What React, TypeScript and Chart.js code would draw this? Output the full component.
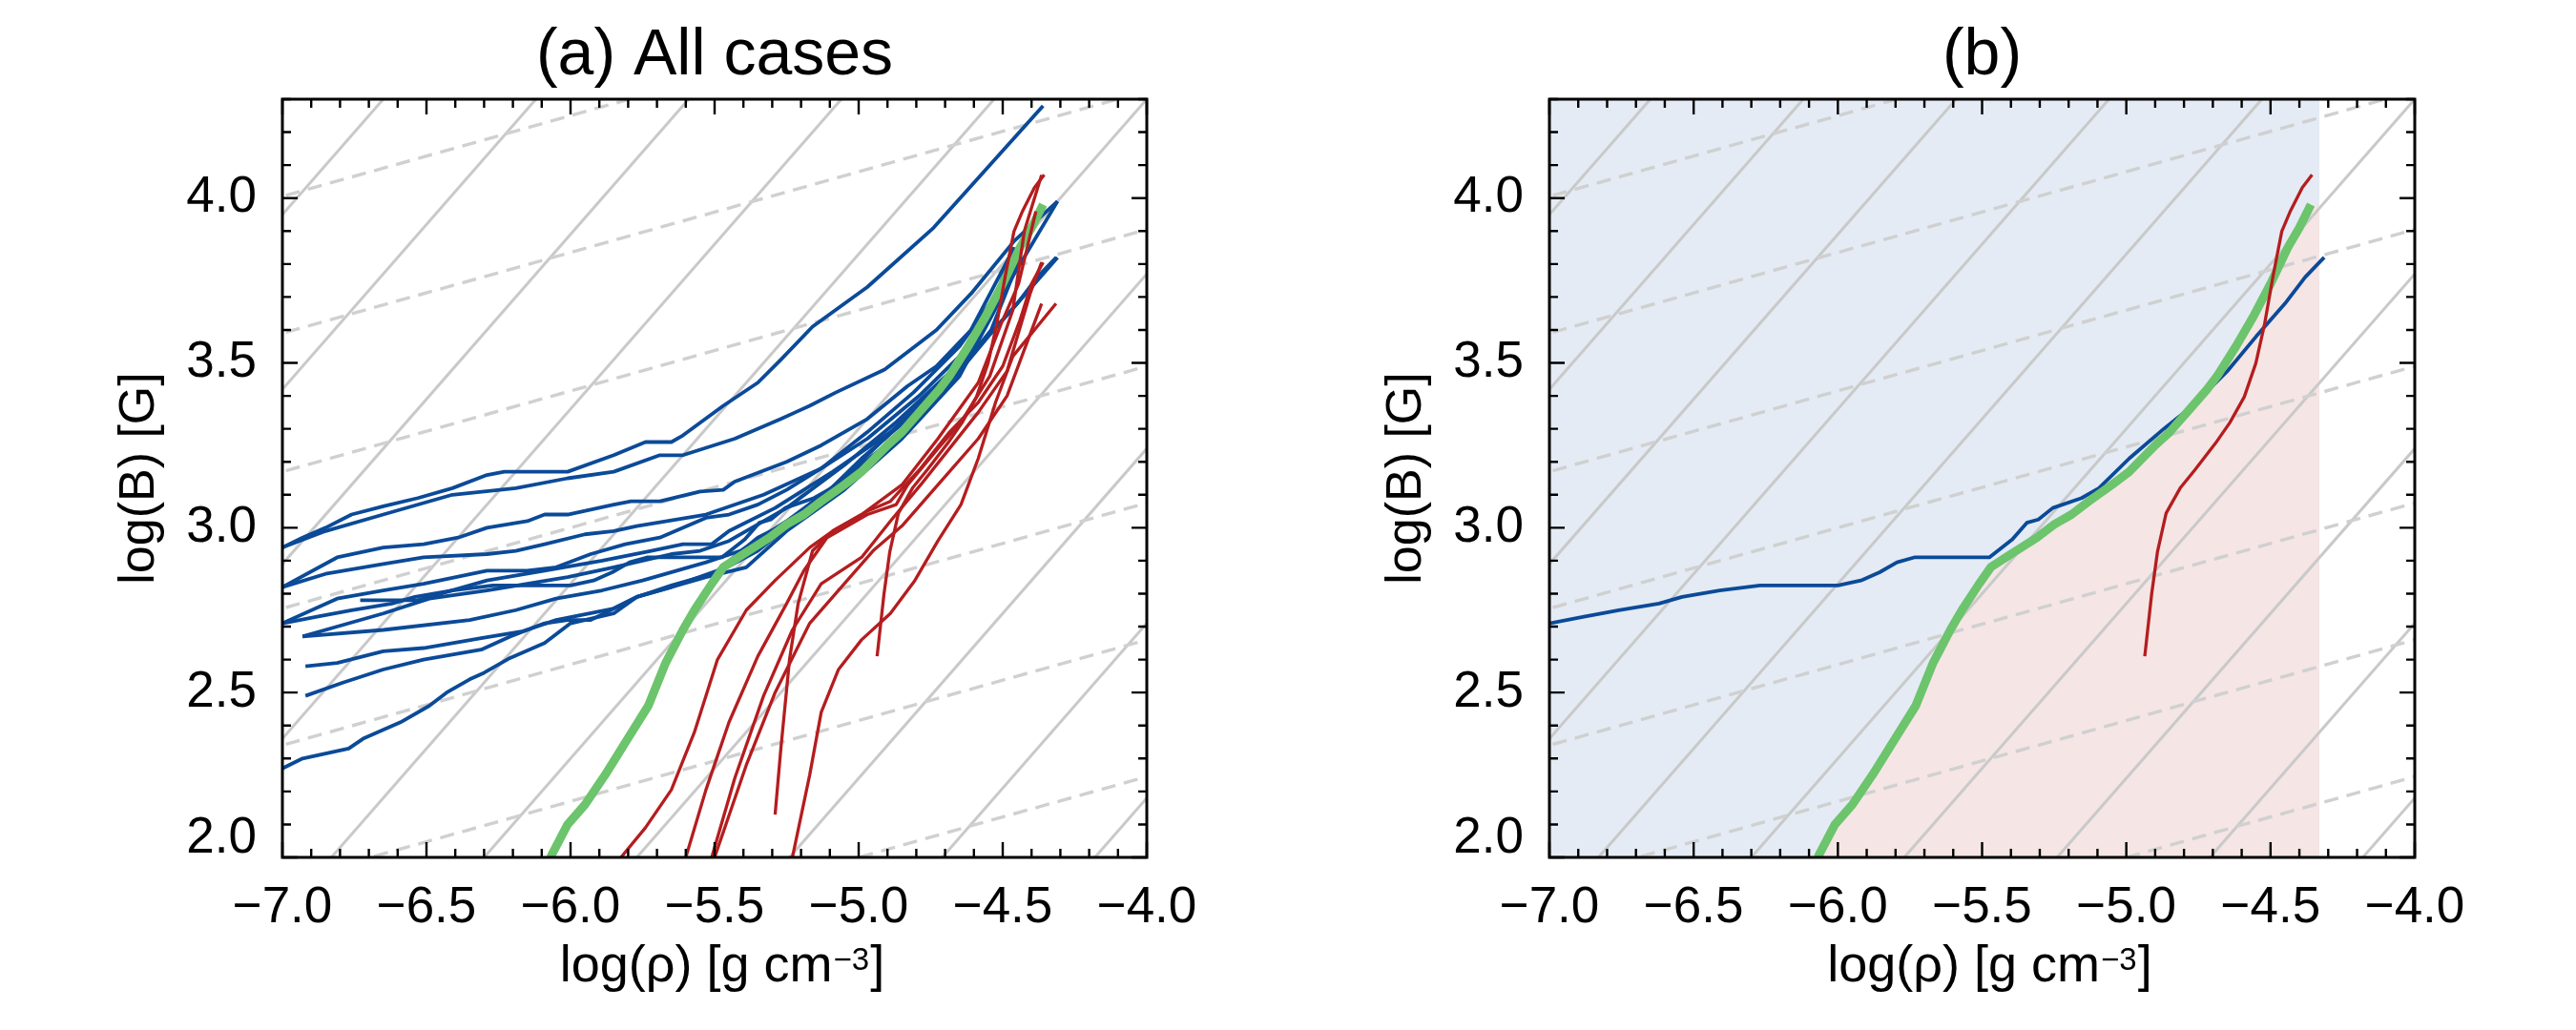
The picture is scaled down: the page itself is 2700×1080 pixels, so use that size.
import React, { useEffect, useRef } from 'react';
import { Chart, registerables } from 'chart.js';

Chart.register(...registerables);

// Axis ranges: log(rho) [g cm^-3] and log(B) [G]
const RHO_MIN = -7.0;
const RHO_MAX = -4.0;
const B_MIN = 2.0;
const B_MAX = 4.3;

// Reference iso-lines. Solid: logB = logRho + c ; dashed: logB = b + slope * (logRho + 7)
const solidOffsets = [10.95, 10.42, 9.89, 9.36, 8.83, 8.3, 7.77, 7.24, 6.71, 6.18];
const SOLID_SLOPE = 1.0;
const dashedAtRhoMinus7 = [4.005, 3.59, 3.17, 2.755, 2.34, 1.925, 1.51];
const DASHED_SLOPE = 0.245;

// Right edge of the shaded regions in panel (b)
const SHADE_EDGE = -4.33;

type Pt = [number, number];

// Green reference track (shown in both panels)
const greenTrack: Pt[] = [
  [-6.07, 2.0], [-6.01, 2.1], [-5.95, 2.16], [-5.88, 2.25], [-5.83, 2.32], [-5.78, 2.39],
  [-5.73, 2.46], [-5.67, 2.59], [-5.61, 2.69], [-5.57, 2.75], [-5.51, 2.83], [-5.47, 2.88],
  [-5.4, 2.92], [-5.31, 2.97], [-5.25, 3.01], [-5.19, 3.04], [-5.13, 3.08], [-5.05, 3.13],
  [-4.99, 3.17], [-4.9, 3.25], [-4.85, 3.29], [-4.78, 3.36], [-4.72, 3.42], [-4.685, 3.46],
  [-4.62, 3.55], [-4.56, 3.64], [-4.5, 3.74], [-4.44, 3.85], [-4.4, 3.91], [-4.36, 3.98],
];

// Blue cases
const blueA: Pt[] = [
  [-7.0, 2.94], [-6.93, 2.97], [-6.85, 3.0], [-6.76, 3.04], [-6.65, 3.065], [-6.53, 3.09],
  [-6.41, 3.12], [-6.29, 3.16], [-6.23, 3.17], [-6.01, 3.17], [-5.85, 3.22], [-5.74, 3.26],
  [-5.65, 3.26], [-5.61, 3.28], [-5.47, 3.37], [-5.35, 3.44], [-5.27, 3.51], [-5.16, 3.61],
  [-4.97, 3.73], [-4.74, 3.91], [-4.36, 4.28],
];
const blueB: Pt[] = [
  [-7.0, 2.94], [-6.85, 2.99], [-6.65, 3.04], [-6.41, 3.1], [-6.19, 3.12], [-6.01, 3.15],
  [-5.85, 3.17], [-5.69, 3.22], [-5.61, 3.22], [-5.43, 3.27], [-5.27, 3.33], [-5.22, 3.35],
  [-5.17, 3.37], [-5.08, 3.41], [-4.91, 3.48], [-4.73, 3.6], [-4.61, 3.71], [-4.46, 3.87],
  [-4.31, 3.99],
];
const blueC: Pt[] = [
  [-7.0, 2.82], [-6.81, 2.91], [-6.65, 2.94], [-6.51, 2.95], [-6.39, 2.97], [-6.29, 3.0],
  [-6.15, 3.02], [-6.09, 3.04], [-6.01, 3.04], [-5.85, 3.07], [-5.79, 3.08], [-5.69, 3.08],
  [-5.55, 3.11], [-5.47, 3.115], [-5.43, 3.14], [-5.25, 3.2], [-5.13, 3.25], [-4.97, 3.33],
  [-4.83, 3.43], [-4.73, 3.49], [-4.61, 3.6], [-4.46, 3.85],
];
const blueD: Pt[] = [
  [-7.0, 2.82], [-6.85, 2.86], [-6.65, 2.89], [-6.51, 2.91], [-6.29, 2.92], [-6.19, 2.93],
  [-6.09, 2.95], [-5.95, 2.98], [-5.85, 2.99], [-5.77, 3.005], [-5.53, 3.04], [-5.33, 3.1],
  [-5.13, 3.18], [-4.97, 3.27], [-4.79, 3.4], [-4.65, 3.52], [-4.52, 3.68], [-4.46, 3.85],
];
const blueE: Pt[] = [
  [-7.0, 2.71], [-6.81, 2.785], [-6.65, 2.81], [-6.51, 2.83], [-6.29, 2.87], [-6.15, 2.87],
  [-6.05, 2.88], [-5.93, 2.92], [-5.81, 2.95], [-5.69, 2.97], [-5.53, 3.03], [-5.45, 3.04],
  [-5.35, 3.07], [-5.25, 3.115], [-5.13, 3.18], [-4.97, 3.29], [-4.81, 3.41], [-4.65, 3.55],
  [-4.52, 3.71], [-4.46, 3.85],
];
const blueF: Pt[] = [
  [-6.73, 2.78], [-6.53, 2.78], [-6.29, 2.84], [-6.09, 2.87], [-5.89, 2.9], [-5.72, 2.93],
  [-5.61, 2.95], [-5.51, 2.95], [-5.45, 2.99], [-5.29, 3.06], [-5.09, 3.17], [-4.89, 3.29],
  [-4.71, 3.44], [-4.57, 3.6], [-4.46, 3.85],
];
const blueG: Pt[] = [
  [-6.93, 2.67], [-6.81, 2.7], [-6.65, 2.74], [-6.49, 2.785], [-6.29, 2.81], [-6.15, 2.83],
  [-6.01, 2.85], [-5.85, 2.88], [-5.65, 2.92], [-5.55, 2.93], [-5.45, 2.96], [-5.25, 3.06],
  [-5.05, 3.19], [-4.87, 3.32], [-4.685, 3.47], [-4.54, 3.65], [-4.46, 3.85],
];
const blueI: Pt[] = [
  [-6.93, 2.67], [-6.65, 2.69], [-6.35, 2.72], [-6.19, 2.75], [-6.05, 2.785], [-5.89, 2.81],
  [-5.75, 2.84], [-5.53, 2.895], [-5.41, 2.93], [-5.25, 3.02], [-5.05, 3.15], [-4.85, 3.29],
  [-4.65, 3.475], [-4.5, 3.71], [-4.44, 3.85],
];
const blueJ: Pt[] = [
  [-6.92, 2.58], [-6.81, 2.59], [-6.65, 2.625], [-6.51, 2.635], [-6.31, 2.665], [-6.17, 2.685],
  [-6.05, 2.72], [-5.85, 2.755], [-5.77, 2.79], [-5.53, 2.85], [-5.39, 2.88], [-5.25, 2.99],
  [-5.05, 3.115], [-4.85, 3.27], [-4.65, 3.46], [-4.46, 3.77], [-4.31, 3.99],
];
const blueK: Pt[] = [
  [-6.92, 2.49], [-6.79, 2.53], [-6.65, 2.57], [-6.51, 2.6], [-6.31, 2.63], [-6.21, 2.67],
  [-6.09, 2.71], [-6.01, 2.72], [-5.93, 2.72], [-5.77, 2.79], [-5.65, 2.825], [-5.49, 2.865],
  [-5.35, 2.93], [-5.15, 3.07], [-4.95, 3.21], [-4.75, 3.37], [-4.54, 3.6], [-4.44, 3.82],
];
const blueL: Pt[] = [
  [-7.0, 2.27], [-6.93, 2.3], [-6.77, 2.33], [-6.72, 2.36], [-6.59, 2.41], [-6.49, 2.46],
  [-6.43, 2.5], [-6.35, 2.54], [-6.3, 2.56], [-6.21, 2.605], [-6.09, 2.65], [-6.0, 2.71],
  [-5.85, 2.74], [-5.77, 2.79], [-5.65, 2.82], [-5.49, 2.87], [-5.35, 2.97], [-5.19, 3.04],
  [-4.97, 3.22], [-4.79, 3.37], [-4.65, 3.49], [-4.48, 3.65], [-4.31, 3.82],
];
// Blue case highlighted in panel (b)
const blueSelected: Pt[] = [
  [-7.0, 2.71], [-6.88, 2.73], [-6.76, 2.75], [-6.62, 2.77], [-6.54, 2.79], [-6.41, 2.81],
  [-6.27, 2.825], [-6.0, 2.825], [-5.92, 2.84], [-5.855, 2.865], [-5.795, 2.895], [-5.735, 2.91],
  [-5.475, 2.91], [-5.395, 2.965], [-5.345, 3.015], [-5.305, 3.025], [-5.255, 3.06], [-5.155, 3.09],
  [-5.095, 3.12], [-4.99, 3.21], [-4.87, 3.3], [-4.77, 3.37], [-4.65, 3.475], [-4.55, 3.58],
  [-4.45, 3.68], [-4.38, 3.76], [-4.314, 3.82],
];

// Red cases
const red1: Pt[] = [
  [-5.825, 2.0], [-5.74, 2.09], [-5.65, 2.205], [-5.57, 2.38], [-5.49, 2.6], [-5.39, 2.75],
  [-5.29, 2.84], [-5.17, 2.94], [-5.09, 2.99], [-4.97, 3.05], [-4.89, 3.08], [-4.785, 3.18],
  [-4.685, 3.29], [-4.585, 3.38], [-4.5, 3.49], [-4.44, 3.63], [-4.4, 3.74], [-4.36, 3.805],
];
const red2: Pt[] = [
  [-5.6, 2.0], [-5.53, 2.205], [-5.45, 2.41], [-5.35, 2.61], [-5.25, 2.77], [-5.19, 2.87],
  [-5.11, 2.97], [-4.97, 3.04], [-4.87, 3.07], [-4.83, 3.13], [-4.725, 3.24], [-4.645, 3.32],
  [-4.545, 3.46], [-4.465, 3.66], [-4.425, 3.9], [-4.365, 4.07],
];
const red3: Pt[] = [
  [-5.51, 2.0], [-5.43, 2.24], [-5.33, 2.49], [-5.23, 2.69], [-5.13, 2.83], [-4.99, 2.91],
  [-4.89, 3.02], [-4.785, 3.13], [-4.685, 3.24], [-4.585, 3.35], [-4.485, 3.475], [-4.405, 3.71],
  [-4.365, 3.805],
];
const red4: Pt[] = [
  [-5.5, 2.0], [-5.39, 2.28], [-5.29, 2.5], [-5.17, 2.71], [-5.05, 2.83], [-4.95, 2.93],
  [-4.85, 3.005], [-4.725, 3.13], [-4.585, 3.27], [-4.485, 3.4], [-4.425, 3.54], [-4.365, 3.68],
];
const red5: Pt[] = [
  [-5.29, 2.13], [-5.27, 2.33], [-5.24, 2.6], [-5.21, 2.77], [-5.16, 2.93], [-5.09, 2.99],
  [-4.99, 3.04], [-4.85, 3.13], [-4.725, 3.27], [-4.585, 3.44], [-4.505, 3.62], [-4.445, 3.74],
  [-4.385, 3.96],
];
const red6: Pt[] = [
  [-5.23, 2.0], [-5.17, 2.25], [-5.13, 2.44], [-5.07, 2.57], [-4.99, 2.66], [-4.89, 2.74],
  [-4.805, 2.84], [-4.725, 2.96], [-4.645, 3.07], [-4.585, 3.21], [-4.525, 3.38], [-4.465, 3.52],
  [-4.315, 3.68],
];
// Red case highlighted in panel (b)
const redSelected: Pt[] = [
  [-4.936, 2.61], [-4.912, 2.8], [-4.892, 2.927], [-4.862, 3.044], [-4.812, 3.122], [-4.761, 3.177],
  [-4.691, 3.256], [-4.641, 3.319], [-4.591, 3.397], [-4.551, 3.499], [-4.521, 3.616], [-4.491, 3.765],
  [-4.461, 3.899], [-4.431, 3.961], [-4.39, 4.032], [-4.356, 4.071],
];

const blueCases = [blueA, blueB, blueC, blueD, blueE, blueF, blueSelected, blueG, blueI, blueJ, blueK, blueL];
const redCases = [red1, red2, red3, red4, red5, red6, redSelected];

const BLUE = '#0b4a98';
const RED = '#b41d1f';
const GREEN = '#6cc46c';
const GRAY_SOLID = '#c9c9c9';
const GRAY_DASH = '#d0d0d0';
const SHADE_BLUE = '#e4ebf4';
const SHADE_PINK = '#f5e5e5';

const FONT = "'Liberation Sans', Arial, Helvetica, sans-serif";

const isMajor = (v: number) => Math.abs(v * 2 - Math.round(v * 2)) < 1e-6;

const toXY = (pts: Pt[]) => pts.map(([x, y]) => ({ x, y }));

function curve(pts: Pt[], color: string, width: number, order: number, dash: number[] = []) {
  return {
    data: toXY(pts),
    showLine: true,
    borderColor: color,
    backgroundColor: color,
    borderWidth: width,
    borderDash: dash,
    pointRadius: 0,
    pointHoverRadius: 0,
    tension: 0,
    fill: false,
    order,
    borderJoinStyle: 'round' as const,
  };
}

function isoLines() {
  const sets: any[] = [];
  const xs = [RHO_MIN - 0.6, RHO_MAX + 0.6];
  for (const c of solidOffsets) {
    sets.push(curve(xs.map((x) => [x, SOLID_SLOPE * x + c] as Pt), GRAY_SOLID, 3, 80));
  }
  for (const b of dashedAtRhoMinus7) {
    sets.push(
      curve(xs.map((x) => [x, b + DASHED_SLOPE * (x - RHO_MIN)] as Pt), GRAY_DASH, 3.4, 79, [15, 9])
    );
  }
  return sets;
}

function framePlugin(title: string, yTitleX: number) {
  return {
    id: 'frame',
    afterDraw(chart: any) {
      const { ctx, chartArea: a, scales } = chart;
      const xs = scales.x;
      const ys = scales.y;
      ctx.save();
      ctx.strokeStyle = '#000';
      ctx.lineWidth = 2.4;
      ctx.beginPath();
      for (const t of xs.ticks) {
        const px = xs.getPixelForValue(t.value);
        const len = isMajor(t.value) ? 16 : 9;
        ctx.moveTo(px, a.bottom);
        ctx.lineTo(px, a.bottom - len);
        ctx.moveTo(px, a.top);
        ctx.lineTo(px, a.top + len);
      }
      for (const t of ys.ticks) {
        const py = ys.getPixelForValue(t.value);
        const len = isMajor(t.value) ? 16 : 9;
        ctx.moveTo(a.left, py);
        ctx.lineTo(a.left + len, py);
        ctx.moveTo(a.right, py);
        ctx.lineTo(a.right - len, py);
      }
      ctx.stroke();
      ctx.lineWidth = 3;
      ctx.strokeRect(a.left, a.top, a.right - a.left, a.bottom - a.top);

      ctx.fillStyle = '#000';
      // panel title
      ctx.font = `68px ${FONT}`;
      ctx.textAlign = 'center';
      ctx.textBaseline = 'alphabetic';
      ctx.fillText(title, (a.left + a.right) / 2, 78);

      // y-axis title
      ctx.save();
      ctx.translate(yTitleX, (a.top + a.bottom) / 2);
      ctx.rotate(-Math.PI / 2);
      ctx.font = `52px ${FONT}`;
      ctx.textAlign = 'center';
      ctx.textBaseline = 'middle';
      ctx.fillText('log(B) [G]', 0, 0);
      ctx.restore();

      // x-axis title with superscript
      const main = 'log(ρ) [g cm';
      const sup = '−3';
      const end = ']';
      ctx.textAlign = 'left';
      ctx.textBaseline = 'alphabetic';
      ctx.font = `54px ${FONT}`;
      const wMain = ctx.measureText(main).width;
      const wEnd = ctx.measureText(end).width;
      ctx.font = `33px ${FONT}`;
      const wSup = ctx.measureText(sup).width;
      const total = wMain + wSup + wEnd + 2;
      const x0 = (a.left + a.right) / 2 - total / 2 + 8;
      const base = 1029;
      ctx.font = `54px ${FONT}`;
      ctx.fillText(main, x0, base);
      ctx.font = `33px ${FONT}`;
      ctx.fillText(sup, x0 + wMain + 1, base - 12);
      ctx.font = `54px ${FONT}`;
      ctx.fillText(end, x0 + wMain + wSup + 2, base);
      ctx.restore();
    },
  };
}

function makeConfig(datasets: any[], yWidth: number, rightPad: number, title: string, yTitleX: number) {
  return {
    type: 'scatter' as const,
    data: { datasets },
    options: {
      animation: false as const,
      responsive: false,
      devicePixelRatio: 1,
      events: [] as any[],
      layout: { padding: { left: 0, right: rightPad, top: 104, bottom: 0 } },
      plugins: { legend: { display: false }, tooltip: { enabled: false }, title: { display: false } },
      scales: {
        x: {
          type: 'linear' as const,
          min: RHO_MIN,
          max: RHO_MAX,
          afterFit: (s: any) => {
            s.height = 181;
          },
          grid: { display: false },
          border: { display: false },
          ticks: {
            stepSize: 0.1,
            maxTicksLimit: 100,
            autoSkip: false,
            maxRotation: 0,
            minRotation: 0,
            padding: 14,
            color: '#000',
            font: { family: FONT, size: 53 },
            callback: (v: number) => (isMajor(v) ? '−' + Math.abs(v).toFixed(1) : ''),
          },
        },
        y: {
          type: 'linear' as const,
          min: B_MIN,
          max: B_MAX,
          afterFit: (s: any) => {
            s.width = yWidth;
          },
          grid: { display: false },
          border: { display: false },
          ticks: {
            stepSize: 0.1,
            maxTicksLimit: 100,
            autoSkip: false,
            padding: 19,
            color: '#000',
            font: { family: FONT, size: 53, lineHeight: '40px' },
            callback: (v: number) => {
              if (!isMajor(v)) return '';
              const s = v.toFixed(1);
              return Math.abs(v - B_MIN) < 1e-6 ? [s, ''] : s;
            },
          },
        },
      },
    },
    plugins: [framePlugin(title, yTitleX)],
  };
}

function Panel({ left, config }: { left: number; config: any }) {
  const ref = useRef<HTMLCanvasElement>(null);
  useEffect(() => {
    if (!ref.current) return;
    const chart = new Chart(ref.current, config);
    return () => chart.destroy();
  }, [config]);
  return (
    <canvas
      ref={ref}
      width={1350}
      height={1080}
      style={{ position: 'absolute', left, top: 0, width: 1350, height: 1080 }}
    />
  );
}

const leftDatasets = [
  ...redCases.map((c) => curve(c, RED, 3.3, 10)),
  curve(greenTrack, GREEN, 9, 20),
  ...blueCases.map((c) => curve(c, BLUE, 3.8, 30)),
  ...isoLines(),
];

const shadeBlue: Pt[] = [
  [RHO_MIN, B_MAX],
  [SHADE_EDGE, B_MAX],
];
const shadePink: Pt[] = [...greenTrack, [SHADE_EDGE, greenTrack[greenTrack.length - 1][1]]];

const rightDatasets = [
  curve(redSelected, RED, 3.3, 10),
  curve(greenTrack, GREEN, 9, 20),
  curve(blueSelected, BLUE, 3.8, 30),
  ...isoLines(),
  { ...curve(shadePink, SHADE_PINK, 0, 90), fill: 'start', backgroundColor: SHADE_PINK },
  { ...curve(shadeBlue, SHADE_BLUE, 0, 100), fill: 'start', backgroundColor: SHADE_BLUE },
];

const leftConfig = makeConfig(leftDatasets, 296, 148, '(a) All cases', 147);
const rightConfig = makeConfig(rightDatasets, 274, 169, '(b)', 125);

export default function App() {
  return (
    <div style={{ position: 'absolute', left: 0, top: 0, width: 2700, height: 1080, background: '#fff' }}>
      <Panel left={0} config={leftConfig} />
      <Panel left={1350} config={rightConfig} />
    </div>
  );
}
